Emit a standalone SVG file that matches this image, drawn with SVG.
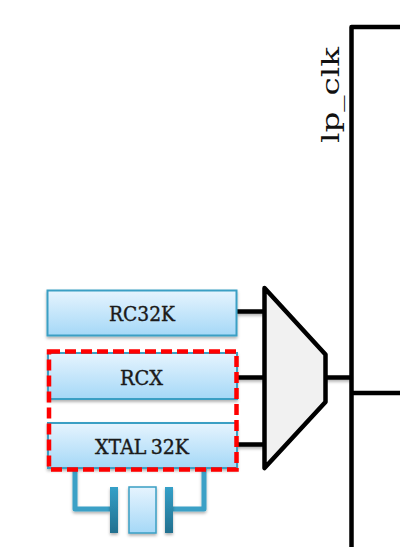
<svg xmlns="http://www.w3.org/2000/svg" width="400" height="547" viewBox="0 0 400 547">
<style>
.wire{fill:none;stroke:#000;stroke-width:4.500;stroke-linejoin:round}
.box{fill:url(#blue);stroke:#3a9fc4;stroke-width:2}
.lab{font-family:"DejaVu Serif",serif;font-size:20px;fill:#1a1a1a;stroke:#1a1a1a;stroke-width:0.400}
.teal{fill:none;stroke:#3aa0c6;stroke-width:5;stroke-linejoin:round}
</style>
<defs>
<linearGradient id="blue" x1="0" y1="0" x2="0" y2="1"><stop offset="0" stop-color="#e6f4fe"/><stop offset="1" stop-color="#a5d8f7"/></linearGradient>
<linearGradient id="plate" x1="0" y1="0" x2="0" y2="1"><stop offset="0" stop-color="#35a0c8"/><stop offset="1" stop-color="#22708f"/></linearGradient>
<filter id="sh" filterUnits="userSpaceOnUse" x="0" y="0" width="400" height="547"><feDropShadow dx="0" dy="2" stdDeviation="1.500" flood-color="#000" flood-opacity="0.300"/></filter>
</defs>
<g id="connectors">
<path class="wire" d="M400 27H351.500V547"/>
<path class="wire" d="M351.500 393H400"/>
<g filter="url(#sh)">
<path class="wire" d="M326 377.500H351.500"/>
<path class="wire" d="M237 311.500H264"/>
<path class="wire" d="M237 377.500H264"/>
<path class="wire" d="M237 444.500H264"/>
<path class="teal" d="M75 468V509H110"/>
<path class="teal" d="M204 468V509H173"/>
</g>
</g>
<g id="rc32k"><rect class="box" x="47.500" y="290.500" width="189" height="45" filter="url(#sh)"/><text class="lab" x="109" y="321" textLength="66" lengthAdjust="spacingAndGlyphs">RC32K</text></g>
<g id="rcx"><rect class="box" x="48" y="353" width="189" height="46" filter="url(#sh)"/><text class="lab" x="120" y="385" textLength="43" lengthAdjust="spacingAndGlyphs">RCX</text></g>
<g id="xtal"><rect class="box" x="48" y="423" width="189" height="45" filter="url(#sh)"/><text class="lab" x="95" y="454" textLength="94" lengthAdjust="spacingAndGlyphs" word-spacing="-2">XTAL 32K</text></g>
<g id="crystal" filter="url(#sh)">
<rect x="110" y="487" width="8" height="46" fill="url(#plate)"/>
<rect x="129" y="487" width="27" height="46" fill="url(#blue)" stroke="#3a9fc4" stroke-width="1.500"/>
<rect x="165" y="487" width="8" height="46" fill="url(#plate)"/>
</g>
<g id="selection"><rect x="49" y="351.500" width="187.500" height="118" fill="none" stroke="#f00" stroke-width="4.500" stroke-dasharray="11 5"/></g>
<g id="mux"><path d="M264.500 288L325.500 354.500V402L264.500 468Z" fill="#f1f1f1" stroke="#000" stroke-width="4.500" stroke-linejoin="round"/></g>
<g id="lp-clk"><text transform="translate(339 143) rotate(-90)" font-family="DejaVu Serif,serif" font-size="25" fill="#111" textLength="96" lengthAdjust="spacingAndGlyphs">lp_clk</text></g>
</svg>
